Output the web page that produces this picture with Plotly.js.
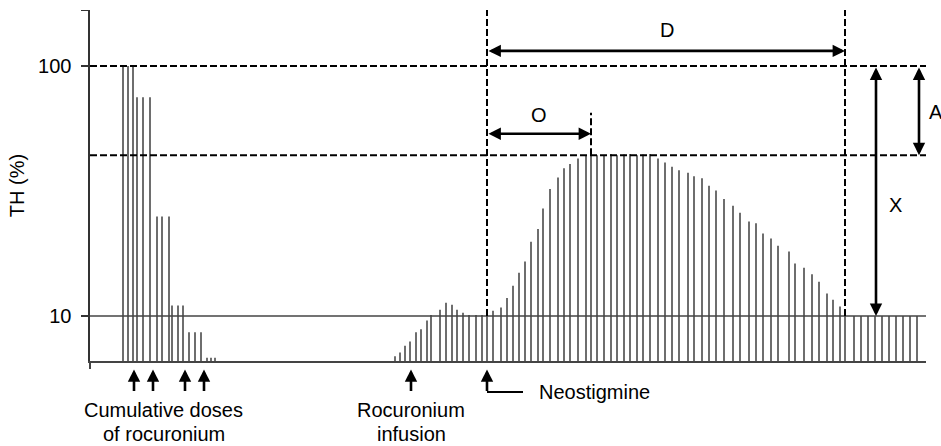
<!DOCTYPE html>
<html><head><meta charset="utf-8">
<script src="https://cdn.plot.ly/plotly-3.0.1.min.js"></script>
<style>html,body{margin:0;padding:0;background:#fff}</style>
</head><body>
<div id="chart" style="width:941px;height:446px"></div>
<script>
// ---- data (time in arbitrary units, TH in %) ----
const bolusTimes = [3.3, 3.8, 4.3, 4.7, 5.3, 6.0, 6.7, 7.2, 7.9, 8.2, 8.8, 9.3, 9.9, 10.5, 11.1, 11.7, 12.1, 12.5];
const bolusTH    = [100, 100, 100, 75, 75, 75, 25, 25, 25, 11, 11, 11, 8.6, 8.6, 8.6, 6.8, 6.8, 6.8];

const infusionTimes = [30.5, 31.0, 31.5, 32.0, 32.6, 33.1, 33.7, 34.1, 35.0, 35.6,
  36.2, 36.7, 37.3, 37.9, 38.6, 39.2, 39.7, 40.3, 41.1, 41.7,
  42.3, 42.9, 43.5, 44.1, 44.8, 45.3, 46.0, 46.8, 47.4, 48.0,
  48.8, 49.6, 50.1, 50.7, 51.4, 52.1, 52.7, 53.4, 54.0, 54.7,
  55.3, 56.0, 56.8, 57.5, 58.2, 58.9, 59.8, 60.4, 61.2, 61.9,
  62.6, 63.4, 64.3, 65.0, 65.9, 66.6, 67.3, 68.1, 68.8, 69.9,
  70.5, 71.4, 72.2, 72.9, 73.7, 74.3, 75.0, 75.5, 76.4, 77.1,
  77.8, 78.5, 79.2, 79.9, 80.6, 81.3, 82.0, 82.7];
const infusionTH = [6.9, 7.15, 7.6, 7.9, 8.6, 8.85, 9.6, 10.1, 10.6, 11.3,
  11.1, 10.6, 10.3, 10.1, 10.1, 10.1, 10.3, 10.5, 10.8, 11.8,
  13.2, 14.9, 16.5, 19.8, 22.3, 26.9, 32.2, 35.8, 39.0, 40.6,
  42.7, 43.9, 44.0, 44.0, 44.0, 44.5, 44.0, 44.3, 44.5, 44.0,
  44.3, 44.5, 42.7, 41.1, 39.5, 38.3, 37.4, 36.2, 35.6, 33.2,
  31.8, 29.4, 27.6, 25.9, 23.9, 23.5, 21.4, 20.4, 19.1, 18.1,
  16.2, 15.6, 14.7, 13.7, 12.3, 11.6, 10.9, 10.4, 10, 10,
  10, 10, 10, 10, 10, 10, 10, 10];

const doseTimes = [4.4, 6.3, 9.5, 11.4];   // cumulative doses of rocuronium
const infusionStart = 32.1;                // rocuronium infusion
const tNeostigmine = 39.7;                 // neostigmine given
const tPeak = 50.1;                        // time of peak (onset O)
const tEnd = 75.5;                         // end of duration D
const controlTH = 100;
const peakTH = 44;
const thresholdTH = 10;
const yTickVals = [10, 100, 167];
const yTickText = ['10', '100', ''];
const labels = {D: 'D', O: 'O', X: 'X', A: 'A'};

// ---- layout constants ----
const X_MAX = 83.6;
const Y_RANGE = [0.8198, 2.2243];
const yBase = Math.pow(10, Y_RANGE[0]);
const yTop = Math.pow(10, Y_RANGE[1]);
const FONT = 'Liberation Sans, Arial, Helvetica, sans-serif';
const barColor = '#4a4a4a';

function stems(ts, vs) {
  const x = [], y = [];
  ts.forEach((t, i) => { x.push(t, t, null); y.push(yBase, vs[i], null); });
  return {x, y};
}
const s1 = stems(bolusTimes, bolusTH);
const s2 = stems(infusionTimes, infusionTH);

const dashStyle = '7px,3px';
const traces = [
  {x: s1.x, y: s1.y, mode: 'lines', line: {color: barColor, width: 1.6}, hoverinfo: 'skip'},
  {x: s2.x, y: s2.y, mode: 'lines', line: {color: barColor, width: 1.6}, hoverinfo: 'skip'},
  {x: [0, X_MAX], y: [thresholdTH, thresholdTH], mode: 'lines', line: {color: '#444', width: 1.6}},
  {x: [0, X_MAX], y: [controlTH, controlTH], mode: 'lines', line: {color: '#000', width: 2, dash: dashStyle}},
  {x: [0, X_MAX], y: [peakTH, peakTH], mode: 'lines', line: {color: '#000', width: 2, dash: dashStyle}},
  {x: [tNeostigmine, tNeostigmine], y: [thresholdTH, yTop], mode: 'lines', line: {color: '#000', width: 2, dash: dashStyle}},
  {x: [tEnd, tEnd], y: [thresholdTH, yTop], mode: 'lines', line: {color: '#000', width: 2, dash: dashStyle}},
  {x: [tPeak, tPeak], y: [peakTH, 65], mode: 'lines', line: {color: '#000', width: 2, dash: dashStyle}}
];

const L = Math.log10;
const AW = 2.6, AS = 0.95;
function dbl(x0, y0, x1, y1) {
  return {xref: 'x', yref: 'y', axref: 'x', ayref: 'y', x: x1, y: L(y1), ax: x0, ay: L(y0),
    text: '', showarrow: true, arrowside: 'end+start', arrowhead: 2, startarrowhead: 2,
    arrowsize: AS, startarrowsize: AS, arrowwidth: AW, arrowcolor: '#000',
    font: {size: 1}, standoff: 0, startstandoff: 0};
}
// paper y for pixels below the plot: plot bottom at 361px, height 351px
const TIP_Y = -0.0242, TAIL_PX = 23, ELBOW_Y = -0.0883;
function up(t) {
  return {xref: 'x', yref: 'paper', x: t, y: TIP_Y, ax: 0, ay: TAIL_PX, text: '', showarrow: true,
    arrowhead: 2, arrowsize: AS, arrowwidth: AW, arrowcolor: '#000', font: {size: 1}, standoff: 0};
}
function txt(text, x, y, xref, yref, xanchor) {
  return {text, x, y, xref, yref, showarrow: false, xanchor: xanchor || 'center', yanchor: 'middle',
    font: {family: FONT, size: 20, color: '#000'}};
}
const annotations = [
  ...doseTimes.map(up), up(infusionStart), up(tNeostigmine),
  dbl(tNeostigmine, 115, tEnd, 115),
  dbl(tNeostigmine, 53.6, tPeak, 53.6),
  dbl(78.6, controlTH, 78.6, thresholdTH),
  dbl(82.9, controlTH, 82.9, peakTH),
  txt(labels.D, 57.7, L(139.6), 'x', 'y'),
  txt(labels.O, 44.9, L(63.8), 'x', 'y'),
  txt(labels.X, 80.5, L(27.8), 'x', 'y'),
  txt(labels.A, 1.0125, L(65.6), 'paper', 'y'),
  txt('Cumulative doses', 7.35, -0.141, 'x', 'paper'),
  txt('of rocuronium', 7.35, -0.207, 'x', 'paper'),
  txt('Rocuronium', infusionStart, -0.141, 'x', 'paper'),
  txt('infusion', infusionStart, -0.207, 'x', 'paper'),
  txt('Neostigmine', 44.7, ELBOW_Y, 'x', 'paper', 'left')
];

const layout = {
  width: 941, height: 446,
  margin: {l: 90, r: 15, t: 10, b: 85},
  paper_bgcolor: '#fff', plot_bgcolor: '#fff',
  showlegend: false,
  font: {family: FONT, size: 20, color: '#000'},
  xaxis: {range: [0, X_MAX], showgrid: false, zeroline: false, showline: true,
    linecolor: '#444', linewidth: 2, tickmode: 'array', tickvals: [0], ticks: 'outside',
    ticklen: 6, tickwidth: 1.5, tickcolor: '#444', showticklabels: false, fixedrange: true},
  yaxis: {type: 'log', range: Y_RANGE, showgrid: false, zeroline: false, showline: true,
    linecolor: '#333', linewidth: 1.6, tickmode: 'array', tickvals: yTickVals, ticktext: yTickText,
    ticks: 'outside', ticklen: 7, tickwidth: 1.6, tickcolor: '#333', ticklabelstandoff: 6,
    tickfont: {family: FONT, size: 20, color: '#000'},
    title: {text: 'TH (%)', standoff: 8, font: {family: FONT, size: 20, color: '#000'}},
    fixedrange: true},
  shapes: [
    {type: 'line', xref: 'x', yref: 'paper', x0: tNeostigmine, x1: 43.3, y0: ELBOW_Y, y1: ELBOW_Y,
      line: {color: '#000', width: 2}}
  ],
  annotations
};
Plotly.newPlot('chart', traces, layout, {staticPlot: true, displayModeBar: false});
</script>
</body></html>
